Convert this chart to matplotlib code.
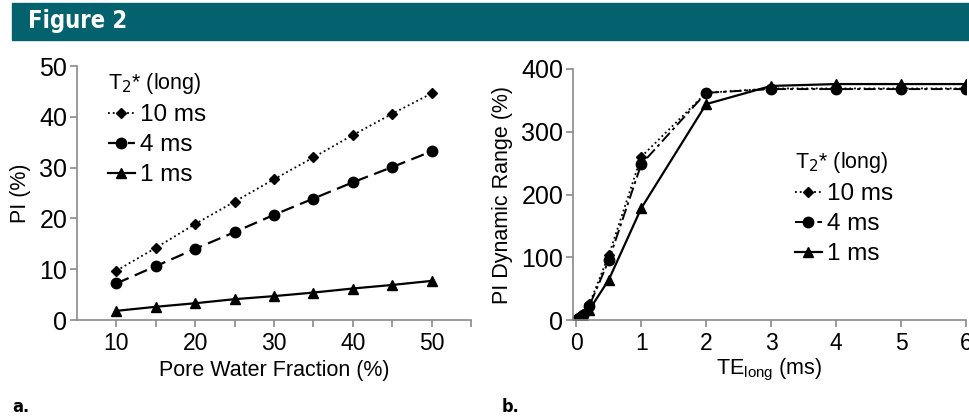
import matplotlib
matplotlib.use("Agg")
import matplotlib.pyplot as plt
from matplotlib.patches import Rectangle

plt.rcParams["font.family"] = ["Liberation Sans", "DejaVu Sans"]

# panel a: PI vs pore water fraction
pore_frac = [10, 15, 20, 25, 30, 35, 40, 45, 50]
pi_10ms = [9.7, 14.2, 18.9, 23.3, 27.7, 32.0, 36.4, 40.6, 44.6]
pi_4ms = [7.2, 10.6, 14.0, 17.3, 20.7, 23.9, 27.1, 30.1, 33.2]
pi_1ms = [1.8, 2.6, 3.3, 4.1, 4.7, 5.4, 6.2, 6.9, 7.7]

# panel b: PI dynamic range vs TE_long
te_long = [0, 0.05, 0.1, 0.2, 0.5, 1, 2, 3, 4, 5, 6]
dr_10ms = [0, 4, 9, 25, 103, 260, 362, 369, 369, 369, 369]
dr_4ms = [0, 3, 8, 22, 95, 248, 362, 368, 368, 368, 368]
dr_1ms = [0, 2, 6, 16, 64, 178, 344, 373, 376, 376, 376]

labels = ["10 ms", "4 ms", "1 ms"]
legend_title = "T$_2$* (long)"

W, H = 970, 417
fig = plt.figure(figsize=(W / 100, H / 100), dpi=100)

narrow = dict(family=["DejaVu Sans"], fontstretch="condensed", fontweight="bold")

# header bar
fig.patches.append(Rectangle((12 / W, 1 - 40 / H), 958 / W, 37 / H,
                             transform=fig.transFigure, color="#03626e", zorder=0))
fig.text(28 / W, 1 - 21 / H, "Figure 2", color="white", fontsize=17, va="center",
         ha="left", **narrow)

ax1 = fig.add_axes([77 / W, 1 - 320 / H, (471 - 77) / W, (320 - 66) / H])
ax2 = fig.add_axes([573 / W, 1 - 320 / H, (966 - 573) / W, (320 - 69) / H])

spine_col = "#8a8a8a"


def style_ax(ax):
    for s in ["top", "right"]:
        ax.spines[s].set_visible(False)
    for s in ["left", "bottom"]:
        ax.spines[s].set_color(spine_col)
        ax.spines[s].set_linewidth(1.2)
    ax.tick_params(which="both", direction="out", length=5, width=1.2, color=spine_col,
                   pad=4)
    ax.tick_params(axis="x", labelsize=16.5)
    ax.tick_params(axis="y", labelsize=18, pad=2)
    ax.set_facecolor("none")


def add_legend(ax, x, y):
    ax.legend(title=legend_title, loc="upper left", bbox_to_anchor=(x / W, 1 - y / H),
              bbox_transform=fig.transFigure, frameon=False, fontsize=17.5,
              title_fontsize=15.5, handlelength=1.1, handletextpad=0.2,
              labelspacing=0.33, borderpad=0, borderaxespad=0, alignment="left")


style_ax(ax1)
ax1.plot(pore_frac, pi_10ms, color="black", linestyle=":", lw=1.3, marker="D", ms=5,
         label=labels[0])
ax1.plot(pore_frac, pi_4ms, color="black", linestyle=(0, (6, 3)), lw=1.6, marker="o", ms=7.5,
         label=labels[1])
ax1.plot(pore_frac, pi_1ms, color="black", linestyle="-", lw=1.6, marker="^", ms=7.5,
         label=labels[2])
ax1.set_xlim(5, 55)
ax1.set_ylim(0, 50)
ax1.set_xticks([10, 20, 30, 40, 50])
ax1.set_xticks([15, 25, 35, 45, 55], minor=True)
ax1.set_yticks([0, 10, 20, 30, 40, 50])
ax1.set_xlabel("Pore Water Fraction (%)", fontsize=15.5, labelpad=3)
ax1.set_ylabel("PI (%)", fontsize=15.5, labelpad=6)
add_legend(ax1, 108, 71)

style_ax(ax2)
ax2.plot(te_long, dr_10ms, color="black", linestyle=":", lw=1.3, marker="D", ms=5,
         label=labels[0])
ax2.plot(te_long, dr_4ms, color="black", linestyle=(0, (6, 2, 1.5, 2)), lw=1.4, marker="o",
         ms=7.5, label=labels[1])
ax2.plot(te_long, dr_1ms, color="black", linestyle="-", lw=1.6, marker="^", ms=7.5,
         label=labels[2])
ax2.set_xlim(-0.05, 6)
ax2.set_ylim(0, 400)
ax2.set_xticks(range(0, 7))
ax2.set_yticks([0, 100, 200, 300, 400])
ax2.set_xlabel("TE$_{\\mathregular{long}}$ (ms)", fontsize=15.5, labelpad=1)
ax2.set_ylabel("PI Dynamic Range (%)", fontsize=15.5, labelpad=6)
add_legend(ax2, 795, 150)

fig.text(12 / W, 1 - 407 / H, "a.", fontsize=13, va="center", **narrow)
fig.text(502 / W, 1 - 407 / H, "b.", fontsize=13, va="center", **narrow)

fig.savefig("out.png", dpi=100)
